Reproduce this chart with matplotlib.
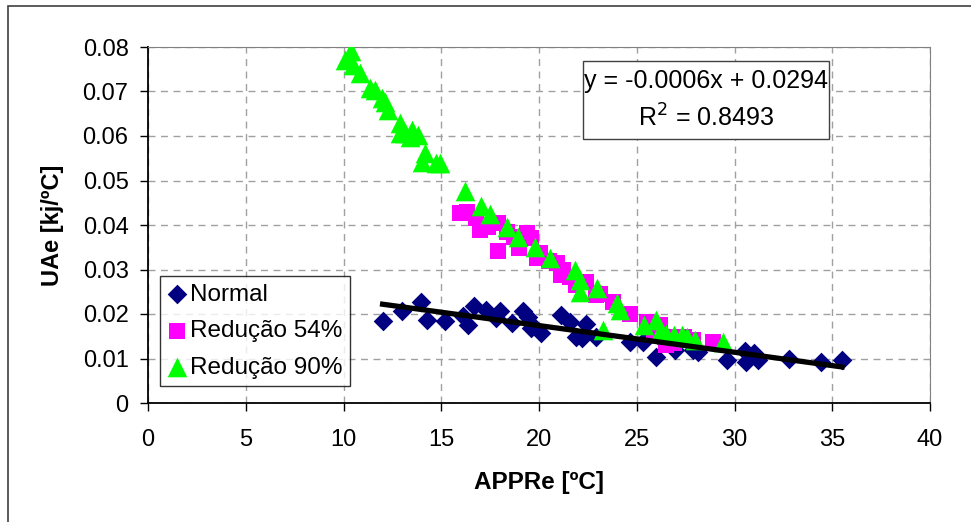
import matplotlib.pyplot as plt
from matplotlib.patches import Rectangle
import numpy as np

plt.rcParams['font.family'] = ['Liberation Sans', 'DejaVu Sans']

# Normal
x_normal = [12.0, 13.0, 13.95, 14.25, 15.2, 16.1, 16.35, 16.7, 17.3, 17.8, 18.0,
            18.6, 19.2, 19.45, 19.6, 19.7, 20.1, 21.1, 21.6, 21.9, 22.2, 22.4,
            22.9, 24.65, 25.3, 26.0, 26.95, 27.9, 28.15, 29.6, 30.55, 30.6,
            31.0, 31.2, 32.8, 34.45, 35.5]
y_normal = [0.0184, 0.0206, 0.0226, 0.0187, 0.0184, 0.0196, 0.0175, 0.0219, 0.0208,
            0.0191, 0.0207, 0.0180, 0.0206, 0.0194, 0.0169, 0.0172, 0.0158, 0.0198,
            0.0183, 0.0148, 0.0145, 0.0178, 0.0148, 0.0136, 0.0138, 0.0104, 0.0119,
            0.0118, 0.0115, 0.0097, 0.0117, 0.0093, 0.0113, 0.0097, 0.0099, 0.0093,
            0.0097]

# Redução 54%
x_r54 = [15.96, 16.3, 16.8, 17.0, 17.0, 17.4, 17.9, 17.9, 18.35, 18.7, 19.0, 19.4,
         19.6, 19.9, 20.05, 20.5, 20.9, 21.15, 21.25, 21.6, 21.9, 22.4, 22.9, 23.1,
         23.8, 24.65, 25.5, 25.9, 26.2, 26.45, 26.5, 26.9, 27.4, 27.9, 28.9]
y_r54 = [0.0426, 0.0430, 0.0415, 0.0400, 0.0389, 0.0396, 0.0404, 0.0342, 0.0385,
         0.0374, 0.0349, 0.0383, 0.0370, 0.0325, 0.0336, 0.0320, 0.0314, 0.0288,
         0.0299, 0.0284, 0.0265, 0.0273, 0.0242, 0.0246, 0.0228, 0.0201, 0.0183,
         0.0160, 0.0175, 0.0149, 0.0130, 0.0134, 0.0149, 0.0142, 0.0138]

# Redução 90%
x_r90 = [10.4, 10.1, 10.5, 10.85, 11.35, 11.6, 11.95, 12.1, 12.3, 12.9, 12.9, 13.15,
         13.5, 13.8, 13.4, 14.15, 14.0, 14.95, 14.75, 16.2, 17.05, 17.5, 18.35,
         18.95, 19.8, 20.55, 21.85, 22.1, 22.1, 22.95, 24.0, 24.15, 23.25, 25.35,
         26.0, 26.2, 26.5, 26.9, 27.3, 27.55, 28.0, 29.4]
y_r90 = [0.0790, 0.0771, 0.0760, 0.0741, 0.0707, 0.0703, 0.0685, 0.0677, 0.0658,
         0.0629, 0.0606, 0.0606, 0.0613, 0.0602, 0.0598, 0.0561, 0.0542, 0.0539,
         0.0539, 0.0477, 0.0443, 0.0424, 0.0396, 0.0373, 0.0350, 0.0325, 0.0299,
         0.0276, 0.0250, 0.0258, 0.0224, 0.0209, 0.0164, 0.0175, 0.0187, 0.0160,
         0.0156, 0.0153, 0.0153, 0.0149, 0.0142, 0.0138]

# trend line of Normal
slope, intercept = -0.0006, 0.0294
r2 = 0.8493

fig = plt.figure(figsize=(9.71, 5.22), dpi=100)
fig.patches.append(Rectangle((8 / 971, -0.1), 1.2, 1.1 - 6 / 522,
                             transform=fig.transFigure, fill=False,
                             edgecolor='#404040', linewidth=1.2))
ax = fig.add_axes([148 / 971, 119 / 522, 782 / 971, 356 / 522])

ax.scatter(x_normal, y_normal, marker='D', s=100, color='#000080', zorder=3,
           linewidths=0, label='Normal')
ax.scatter(x_r54, y_r54, marker='s', s=118, color='#ff00ff', zorder=4,
           linewidths=0, label='Redução 54%')
ax.scatter(x_r90, y_r90, marker='^', s=200, color='#00ff00', zorder=5,
           linewidths=0, label='Redução 90%')

xt = np.array([min(x_normal), max(x_normal)])
ax.plot(xt, slope * xt + intercept, color='black', linewidth=3.8, zorder=6)

ax.set_xlim(0, 40)
ax.set_ylim(0, 0.08)
ax.set_xticks(np.arange(0, 41, 5))
ax.set_yticks(np.arange(0, 0.081, 0.01))
ax.set_yticklabels(['0'] + ['%.2f' % v for v in np.arange(0.01, 0.081, 0.01)])
ax.grid(True, color='#a0a0a0', linestyle=(0, (5, 4)), linewidth=1.0)
ax.set_axisbelow(True)
ax.tick_params(labelsize=17, direction='out', length=6, width=1)
ax.tick_params(axis='x', pad=13)
ax.tick_params(axis='y', pad=8)
for s in ['top', 'right']:
    ax.spines[s].set_color('#808080')
for s in ['left', 'bottom']:
    ax.spines[s].set_linewidth(1.3)

ax.set_xlabel('APPRe [ºC]', fontsize=17.5, fontweight='bold', labelpad=14)
ax.set_ylabel('UAe [kj/ºC]', fontsize=17, fontweight='bold', labelpad=13)

leg = ax.legend(loc='lower left', bbox_to_anchor=(12 / 782, 17 / 356),
                fontsize=17.5, frameon=True, fancybox=False, handlelength=0.8,
                handletextpad=0.15, borderpad=0.3, labelspacing=0.6,
                borderaxespad=0, scatterpoints=1)
leg.get_frame().set_edgecolor('black')
leg.get_frame().set_linewidth(1.0)

# equation box of the trend line
ax.add_patch(Rectangle((0.5563, 0.7416), 0.3145, 0.2191, transform=ax.transAxes,
                       facecolor='white', edgecolor='#404040', linewidth=1.0,
                       zorder=7))
ax.text((706 - 148) / 782, (403 - 100) / 356,
        'y = -0.0006x + 0.0294\nR$^2$ = %.4f' % r2,
        transform=ax.transAxes, fontsize=18, ha='center', va='center',
        linespacing=1.5, zorder=8)

fig.savefig('out.png', dpi=100)
